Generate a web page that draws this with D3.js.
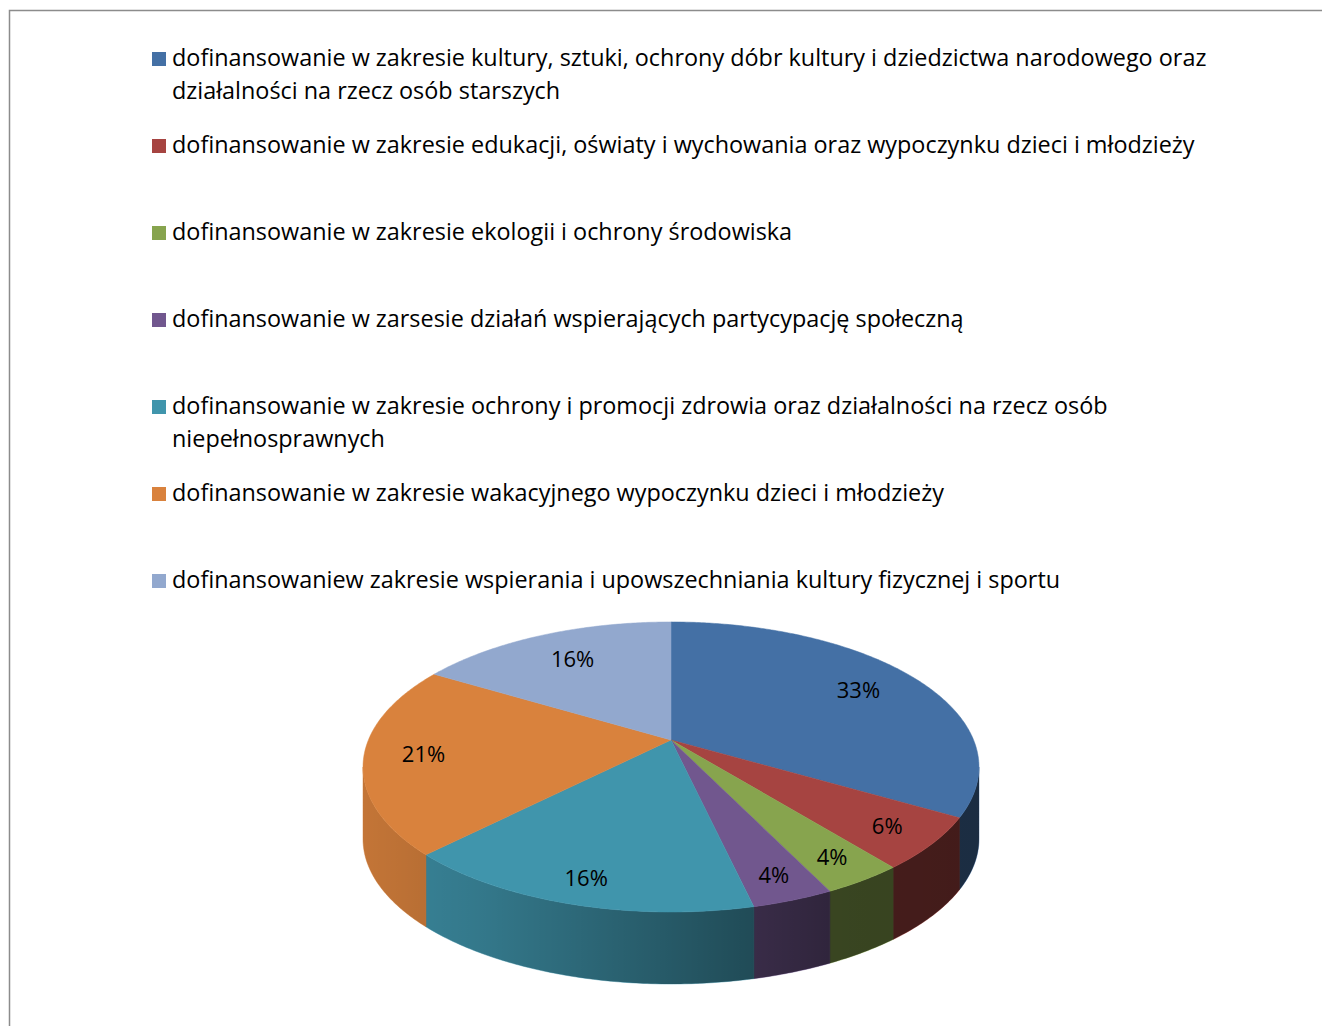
<!DOCTYPE html>
<meta charset="utf-8">
<title>Pie</title>
<style>
body {
  margin: 0;
  background: #fff;
}

.legend-text {
  font-family: "Open Sans", "Noto Sans", sans-serif;
  font-size: 23.4px;
  fill: #000;
}

.pct {
  font-family: "Open Sans", "Noto Sans", sans-serif;
  font-size: 22px;
  fill: #000;
  text-anchor: middle;
}
</style>
<body>
<svg width="1322" height="1026"></svg>

<script src="https://d3js.org/d3.v7.min.js"></script>
<script>
var categories = [
  "dofinansowanie w zakresie kultury, sztuki, ochrony dóbr kultury i dziedzictwa narodowego oraz działalności na rzecz osób starszych",
  "dofinansowanie w zakresie edukacji, oświaty i wychowania oraz wypoczynku dzieci i młodzieży",
  "dofinansowanie w zakresie ekologii i ochrony środowiska",
  "dofinansowanie w zarsesie działań wspierających partycypację społeczną",
  "dofinansowanie w zakresie ochrony i promocji zdrowia oraz działalności na rzecz osób niepełnosprawnych",
  "dofinansowanie w zakresie wakacyjnego wypoczynku dzieci i młodzieży",
  "dofinansowaniew zakresie wspierania i upowszechniania kultury fizycznej i sportu"
];

// shares (percent)
var values = [33.4, 5.8, 3.6, 3.6, 16.0, 21.2, 16.4];

var colors = ["#4470a5", "#a64441", "#87a44e", "#71578e", "#4095ac", "#d9823d", "#92a8ce"];

var svg = d3.select("svg");

// frame of the chart area
svg.append("path")
    .attr("d", "M9.5,1030V10.5H1330")
    .attr("fill", "none")
    .attr("stroke", "#8c8c8c")
    .attr("stroke-width", 1.5);

//Legend
var legend = svg.append("g").attr("transform", "translate(152,0)");
var maxWidth = 1070;

categories.forEach(function(name, i) {
  var y0 = 66 + i * 87;
  legend.append("rect")
      .attr("x", 0)
      .attr("y", y0 - 14)
      .attr("width", 14)
      .attr("height", 14)
      .attr("fill", colors[i]);

  var text = legend.append("text")
      .attr("class", "legend-text")
      .attr("x", 20)
      .attr("y", y0);

  // simple word wrap
  var words = name.split(" "), line = [], lineNo = 0;
  var tspan = text.append("tspan").attr("x", 20).attr("y", y0);
  words.forEach(function(w) {
    line.push(w);
    tspan.text(line.join(" "));
    if (tspan.node().getComputedTextLength() > maxWidth && line.length > 1) {
      line.pop();
      tspan.text(line.join(" "));
      line = [w];
      lineNo++;
      tspan = text.append("tspan").attr("x", 20).attr("y", y0 + lineNo * 33).text(w);
    }
  });
});

//3D pie, perspective projection of a disk
var cx = 671, cy = 740,
    A = 302.6, B = 140, k = 0.186,
    depth = 72;

function proj(t, r, dz) {
  var u = r * Math.sin(t), v = r * Math.cos(t), w = 1 + k * v;
  return [cx + A * u / w, cy - B * v / w + (dz || 0)];
}

function arcPoints(t0, t1, dz) {
  var n = Math.max(2, Math.ceil((t1 - t0) / 0.01)), pts = [];
  for (var j = 0; j <= n; j++) pts.push(proj(t0 + (t1 - t0) * j / n, 1, dz));
  return pts;
}

var pie = d3.pie().sort(null).value(function(d) { return d; });
var slices = pie(values);
var total = d3.sum(values);
var fmt = d3.format(".0%");
var line = d3.line();

// front silhouette where the rim is visible
var tL = Math.PI / 2 + Math.asin(k),
    tR = 3 * Math.PI / 2 - Math.asin(k);

var defs = svg.append("defs");
var grad = defs.append("linearGradient")
    .attr("id", "shade")
    .attr("gradientUnits", "userSpaceOnUse")
    .attr("x1", cx - A * 1.02).attr("x2", cx + A * 1.02)
    .attr("y1", 0).attr("y2", 0);
[[0, 0.1], [0.2, 0.2], [0.64, 0.5], [0.76, 0.58], [1, 0.6]].forEach(function(s) {
  grad.append("stop").attr("offset", s[0]).attr("stop-color", "#000").attr("stop-opacity", s[1]);
});

var pieG = svg.append("g");

// rim of each slice
slices.forEach(function(d, i) {
  var a = Math.max(d.startAngle, tL), b = Math.min(d.endAngle, tR);
  if (b <= a) return;
  var pts = arcPoints(a, b, 0).concat(arcPoints(a, b, depth).reverse());
  pieG.append("path")
      .attr("d", line(pts) + "Z")
      .attr("fill", colors[i])
      .attr("stroke", colors[i])
      .attr("stroke-width", 0.5);
});

// lighting over the whole rim
var rim = arcPoints(tL, tR, 0).concat(arcPoints(tL, tR, depth).reverse());
pieG.append("path")
    .attr("d", line(rim) + "Z")
    .attr("fill", "url(#shade)");

// top faces
slices.forEach(function(d, i) {
  var pts = [proj(0, 0, 0)].concat(arcPoints(d.startAngle, d.endAngle, 0));
  pieG.append("path")
      .attr("d", line(pts) + "Z")
      .attr("fill", colors[i])
      .attr("stroke", colors[i])
      .attr("stroke-width", 0.5);
});

// data labels
slices.forEach(function(d, i) {
  var mid = (d.startAngle + d.endAngle) / 2;
  var r = 0.8 - 0.07 * Math.cos(mid);
  var p = proj(mid, r, 0);
  pieG.append("text")
      .attr("class", "pct")
      .attr("x", p[0])
      .attr("y", p[1])
      .attr("dy", "0.35em")
      .text(fmt(d.data / total));
});
</script>
</body>
